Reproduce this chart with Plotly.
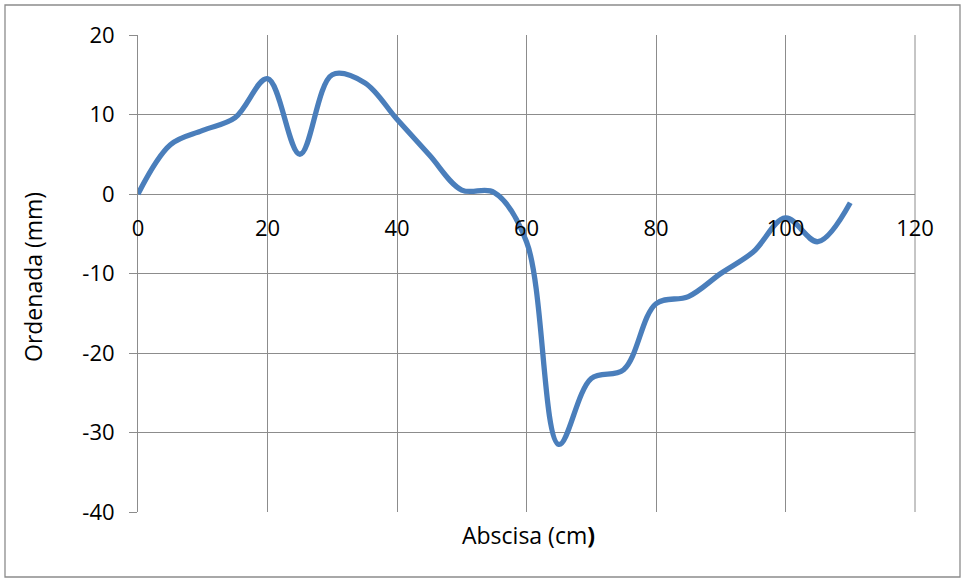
import plotly.graph_objects as go

# Profile measurements: abscissa (cm) and ordinate (mm)
abscisa = [0, 5, 10, 15, 20, 25, 30, 35, 40, 45, 50, 55, 60, 65, 70, 75, 80, 85, 90, 95, 100, 105, 110]
ordenada = [0, 6.2, 8.0, 9.6, 14.5, 5.0, 15.0, 14.0, 9.4, 4.9, 0.5, 0.2, -6.0, -31.5, -23.2, -22.1,
            -13.8, -12.9, -10.0, -7.3, -3.0, -6.0, -1.1]

x_ticks = [0, 20, 40, 60, 80, 100, 120]
y_ticks = [20, 10, 0, -10, -20, -30, -40]

W, H = 965, 582
L, R, T, B = 138, 50, 35, 70
pw, ph = W - L - R, H - T - B

grid = "#8c8c8c"
family = "Open Sans, Liberation Sans, sans-serif"
tick_font = dict(family=family, size=22, color="#000000")
title_font = dict(family=family, size=23, color="#000000")

fig = go.Figure()
fig.add_trace(go.Scatter(
    x=abscisa, y=ordenada, mode="lines",
    line=dict(color="#4a7ebb", width=5.3, shape="spline", smoothing=1.0),
    showlegend=False, hoverinfo="skip",
))

# x axis crosses the y axis at zero
y_zero_frac = (0 - y_ticks[-1]) / (y_ticks[0] - y_ticks[-1])


def px_x(p):
    return (p - L) / pw


def px_y(p):
    return (H - B - p) / ph


fig.update_layout(
    width=W, height=H,
    margin=dict(l=L, r=R, t=T, b=B, pad=0),
    paper_bgcolor="white", plot_bgcolor="white",
    xaxis=dict(
        range=[0, 120], tickvals=x_ticks, ticktext=[str(v) for v in x_ticks],
        showgrid=True, gridcolor=grid, gridwidth=1,
        zeroline=False, showline=False,
        anchor="free", position=y_zero_frac,
        ticks="", ticklabelstandoff=19, tickfont=tick_font,
    ),
    yaxis=dict(
        range=[-40, 20], tickvals=y_ticks, ticktext=[str(v) for v in y_ticks],
        showgrid=True, gridcolor=grid, gridwidth=1,
        zeroline=False, showline=True, linecolor=grid, linewidth=1,
        ticks="outside", ticklen=8, tickcolor=grid,
        tickfont=tick_font, ticklabelstandoff=10,
    ),
    shapes=[
        # outer chart border
        dict(type="rect", xref="paper", yref="paper",
             x0=px_x(5), x1=px_x(960), y0=px_y(577), y1=px_y(5),
             line=dict(color="#8c8c8c", width=1.3), fillcolor="rgba(0,0,0,0)", layer="below"),
        # right border of plot area
        dict(type="line", xref="paper", yref="paper", x0=1, x1=1, y0=0, y1=1,
             line=dict(color=grid, width=1), layer="below"),
    ],
    annotations=[
        dict(text="Abscisa (cm<b>)</b>", xref="paper", yref="paper",
             x=px_x(528), y=px_y(535), showarrow=False,
             xanchor="center", yanchor="middle", font=title_font),
        dict(text="Ordenada (mm)", xref="paper", yref="paper", textangle=-90,
             x=px_x(33), y=px_y(277), showarrow=False,
             xanchor="center", yanchor="middle", font=title_font),
    ],
)

fig.write_html("out.html")
